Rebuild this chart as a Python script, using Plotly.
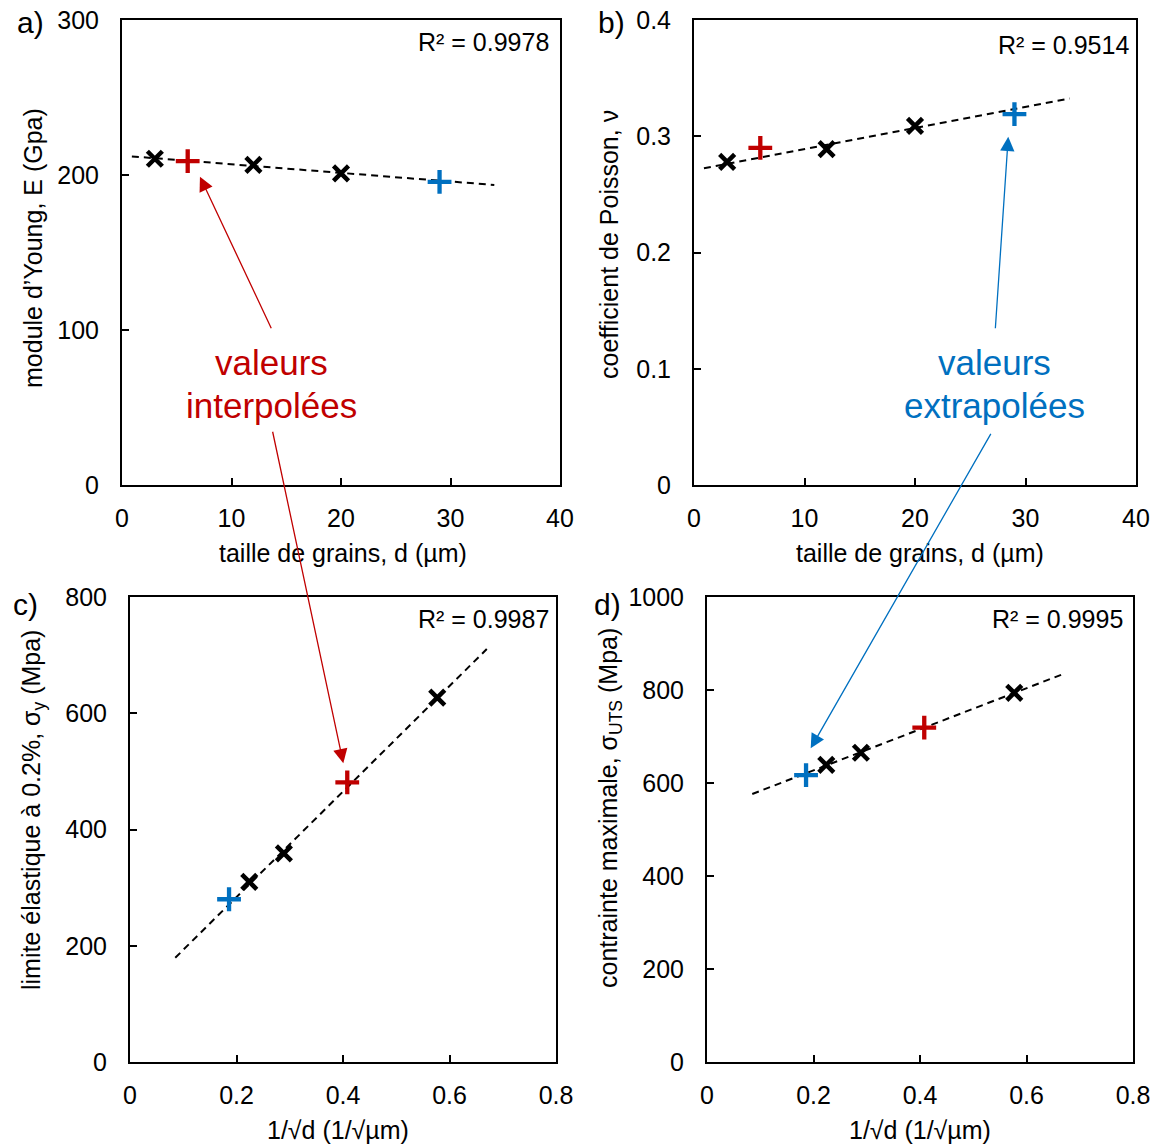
import numpy as np
import plotly.graph_objects as go

# ---------------- data ----------------
# a) Young's modulus vs grain size
d_meas = [3, 12, 20]
E_meas = [210.5, 206.5, 201.0]
d_interp = [6]
E_interp = [209.0]
d_extrap = [29]
E_extrap = [195.5]

# b) Poisson coefficient vs grain size
nu_meas = [0.278, 0.289, 0.309]
nu_interp = [0.290]
nu_extrap = [0.319]

# c) yield stress vs 1/sqrt(d)
s_meas = [0.577, 0.289, 0.224]
sy_meas = [627, 359, 310]
s_interp = [0.408]
sy_interp = [481]
s_extrap = [0.186]
sy_extrap = [280]

# d) UTS vs 1/sqrt(d)
suts_meas = [794, 665, 639]
suts_interp = [719]
suts_extrap = [617]

r2_labels = ["R² = 0.9978", "R² = 0.9514", "R² = 0.9987", "R² = 0.9995"]
trend_range_d = [0.9, 34]
trend_range_s = [0.085, 0.67]

RED = "#C00000"
BLUE = "#0070C0"
FONT = "Liberation Sans, Arial, sans-serif"

W, H = 1161, 1146

fig = go.Figure()


def add_panel(xs, ys, xi, yi, xe, ye, trange, xa, ya):
    k, b = np.polyfit(xs, ys, 1)
    tx = np.array(trange)
    fig.add_trace(go.Scatter(x=tx, y=k * tx + b, mode="lines", xaxis=xa, yaxis=ya,
                             line=dict(color="black", width=2, dash="7px,5px"),
                             showlegend=False))
    fig.add_trace(go.Scatter(x=xs, y=ys, mode="markers", xaxis=xa, yaxis=ya,
                             marker=dict(symbol="x-thin", size=15, color="black",
                                         line=dict(width=4.5, color="black")),
                             showlegend=False))
    fig.add_trace(go.Scatter(x=xi, y=yi, mode="markers", xaxis=xa, yaxis=ya,
                             marker=dict(symbol="cross-thin", size=17, color=RED,
                                         line=dict(width=4.3, color=RED)),
                             showlegend=False))
    fig.add_trace(go.Scatter(x=xe, y=ye, mode="markers", xaxis=xa, yaxis=ya,
                             marker=dict(symbol="cross-thin", size=17, color=BLUE,
                                         line=dict(width=4.3, color=BLUE)),
                             showlegend=False))


add_panel(d_meas, E_meas, d_interp, E_interp, d_extrap, E_extrap, trend_range_d, "x", "y")
add_panel(d_meas, nu_meas, d_interp, nu_interp, d_extrap, nu_extrap, trend_range_d, "x2", "y2")
add_panel(s_meas, sy_meas, s_interp, sy_interp, s_extrap, sy_extrap, trend_range_s, "x3", "y3")
add_panel(s_meas, suts_meas, s_interp, suts_interp, s_extrap, suts_extrap, trend_range_s, "x4", "y4")


def px_dom(a, b, total, flip=False):
    if flip:
        return [1 - b / total, 1 - a / total]
    return [a / total, b / total]


def axis(domain, rng, dtick, anchor, standoff):
    return dict(domain=domain, range=rng, dtick=dtick, tick0=0, anchor=anchor,
                automargin=False,
                showline=True, mirror=True, linecolor="black", linewidth=2,
                ticks="inside", ticklen=7, tickwidth=2, tickcolor="black",
                showgrid=False, zeroline=False, ticklabelstandoff=standoff,
                tickfont=dict(size=25, color="black", family=FONT))


fig.update_layout(
    template="none",
    width=W, height=H, margin=dict(l=0, r=0, t=0, b=0, autoexpand=False),
    plot_bgcolor="white", paper_bgcolor="white",
    font=dict(family=FONT, color="black"),
    xaxis=axis(px_dom(122, 560, W), [0, 40], 10, "y", 10),
    yaxis=axis(px_dom(20, 485, H, True), [0, 300], 100, "x", 16),
    xaxis2=axis(px_dom(694, 1136, W), [0, 40], 10, "y2", 10),
    yaxis2=axis(px_dom(20, 485, H, True), [0, 0.4], 0.1, "x2", 16),
    xaxis3=axis(px_dom(130, 556, W), [0, 0.8], 0.2, "y3", 10),
    yaxis3=axis(px_dom(597, 1062, H, True), [0, 800], 200, "x3", 16),
    xaxis4=axis(px_dom(707, 1133, W), [0, 0.8], 0.2, "y4", 10),
    yaxis4=axis(px_dom(597, 1062, H, True), [0, 1000], 200, "x4", 16),
)

ann = []


def txt(x, y, text, size=24, color="black", angle=0, xanchor="center"):
    ann.append(dict(x=x / W, y=1 - y / H, xref="paper", yref="paper", text=text,
                    showarrow=False, textangle=angle, xanchor=xanchor, yanchor="middle",
                    font=dict(size=size, color=color, family=FONT)))


# panel letters
txt(30, 22, "a)", 30)
txt(611, 22, "b)", 30)
txt(25, 604, "c)", 30)
txt(607, 604, "d)", 30)

# R² labels
txt(551, 42, r2_labels[0], 25, xanchor="right")
txt(1131, 45, r2_labels[1], 25, xanchor="right")
txt(551, 619, r2_labels[2], 25, xanchor="right")
txt(1125, 619, r2_labels[3], 25, xanchor="right")

# axis titles
txt(33, 248, "module d’Young, E (Gpa)", 25, angle=-90)
txt(609, 245, "coefficient de Poisson, ν", 25, angle=-90)
txt(33, 810, "limite élastique à 0.2%, σ<sub>y</sub> (Mpa)", 25, angle=-90)
txt(610, 808, "contrainte maximale, σ<sub>UTS</sub> (Mpa)", 25, angle=-90)
txt(343, 553, "taille de grains, d (µm)", 25)
txt(920, 553, "taille de grains, d (µm)", 25)
txt(338, 1130, "1/√d (1/√µm)", 25)
txt(920, 1130, "1/√d (1/√µm)", 25)

# callout texts
txt(271, 362, "valeurs", 35, RED)
txt(271, 405, "interpolées", 35, RED)
txt(994, 362, "valeurs", 35, BLUE)
txt(994, 405, "extrapolées", 35, BLUE)


def arrow(x, y, xref, yref, ax, ay, color):
    ann.append(dict(x=x, y=y, xref=xref, yref=yref, ax=ax, ay=ay, axref="pixel", ayref="pixel",
                    text="", showarrow=True, arrowhead=2, arrowsize=2.2, arrowwidth=1.3,
                    arrowcolor=color))


# arrow tips given in data coordinates of the target panels, tails as pixel offsets
arrow(7.12, 198.9, "x", "y", 72, 153, RED)
arrow(0.4006, 514, "x3", "y3", -71, -333, RED)
arrow(28.44, 0.2996, "x2", "y2", -13, 193, BLUE)
arrow(0.1947, 674.6, "x4", "y4", 181, -316, BLUE)

fig.update_layout(annotations=ann)
fig.write_html("out.html", config={"displayModeBar": False},
               post_script="document.body.style.margin='0';document.body.style.overflow='hidden';")
